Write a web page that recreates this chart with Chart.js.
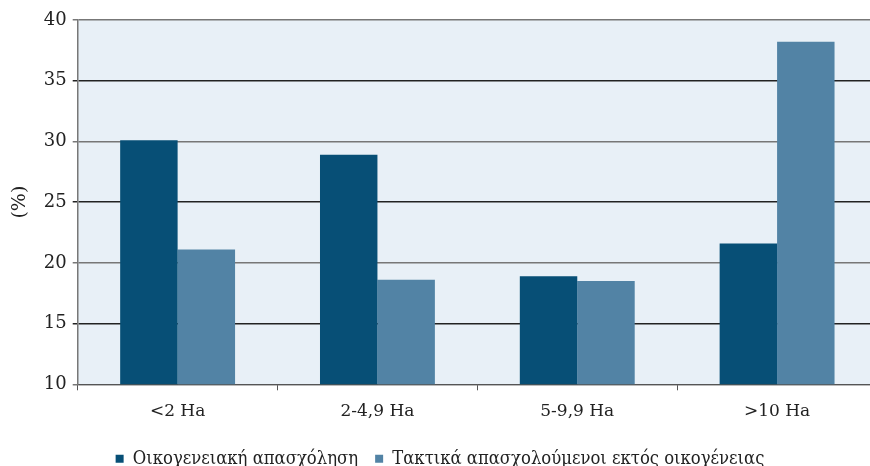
<!DOCTYPE html>
<html>
<head>
<meta charset="utf-8">
<script src="https://cdn.jsdelivr.net/npm/chart.js@4/dist/chart.umd.min.js"></script>
<style>
  html, body { margin: 0; padding: 0; background: #fff; overflow: hidden; }
  #wrap { width: 870px; height: 466px; overflow: hidden; }
</style>
</head>
<body>
<div id="wrap"><canvas id="chart1" width="880" height="478"></canvas></div>
<script>
var categories = ['<2 Ha', '2-4,9 Ha', '5-9,9 Ha', '>10 Ha'];
var seriesNames = ['Οικογενειακή απασχόληση', 'Τακτικά απασχολούμενοι εκτός οικογένειας'];
var familyValues = [30.1, 28.9, 18.9, 21.6];
var hiredValues = [21.1, 18.6, 18.5, 38.2];
var yTicks = [10, 15, 20, 25, 30, 35, 40];

// light fill behind the plot area
var plotBg = {
  id: 'plotBg',
  beforeDraw: function (chart) {
    var a = chart.chartArea, ctx = chart.ctx;
    ctx.save();
    ctx.fillStyle = '#e8f0f7';
    ctx.fillRect(a.left, a.top, a.right - a.left, a.bottom - a.top);
    ctx.restore();
  }
};

new Chart('chart1', {
  type: 'bar',
  data: {
    labels: categories,
    datasets: [{
      label: seriesNames[0],
      backgroundColor: '#074f76',
      data: familyValues
    }, {
      label: seriesNames[1],
      backgroundColor: '#5283a5',
      data: hiredValues
    }]
  },
  options: {
    responsive: false,
    animation: false,
    layout: { padding: { left: 3, top: 20, right: 3, bottom: 0 } },
    datasets: { bar: { categoryPercentage: 0.575, barPercentage: 1 } },
    plugins: {
      tooltip: { enabled: false },
      legend: {
        position: 'bottom',
        align: 'center',
        labels: {
          boxWidth: 8,
          boxHeight: 8,
          padding: 17,
          color: '#222',
          font: { family: "'DejaVu Serif Condensed', 'DejaVu Serif', serif", size: 18.3 }
        }
      }
    },
    scales: {
      x: {
        offset: true,
        grid: { drawOnChartArea: false, drawTicks: true, tickLength: 6, color: '#555', offset: true },
        border: { color: '#555', width: 1 },
        ticks: { color: '#222', padding: 11, font: { family: 'DejaVu Serif', size: 17 } }
      },
      y: {
        min: 10,
        max: 40,
        afterBuildTicks: function (axis) { axis.ticks = yTicks.map(function (v) { return { value: v }; }); },
        grid: {
          tickLength: 5,
          lineWidth: 1.5,
          color: function (c) { return (c.tick && c.tick.value % 10 === 5) ? '#222' : '#777'; }
        },
        border: { color: '#777', width: 1.5 },
        ticks: { color: '#222', padding: 6, font: { family: 'DejaVu Serif', size: 18 } },
        title: { display: true, text: '(%)', color: '#222', font: { family: 'DejaVu Serif', size: 19 }, padding: 6 }
      }
    }
  },
  plugins: [plotBg]
});
</script>
</body>
</html>
